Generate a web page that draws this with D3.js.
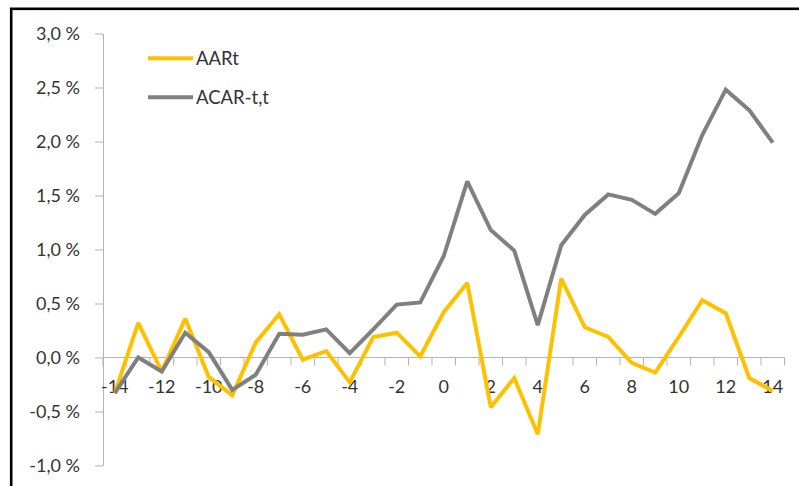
<!DOCTYPE html>
<html>
<head>
<meta charset="utf-8">
<script src="https://cdn.jsdelivr.net/npm/d3@7"></script>
<style>
  html, body { margin: 0; padding: 0; background: #fff; }
  svg { display: block; }
  text { font-family: Lato, "Liberation Sans", sans-serif; fill: #333; }
</style>
</head>
<body>
<svg id="chart" width="799" height="486"></svg>
<script>
// Event days relative to the announcement
const days = d3.range(-14, 15);

// Average abnormal return per day (%)
const aar = [-0.33, 0.32, -0.13, 0.36, -0.18, -0.35, 0.14, 0.40, -0.02, 0.06,
             -0.23, 0.19, 0.23, 0.01, 0.42, 0.69, -0.46, -0.19, -0.71, 0.73,
             0.28, 0.19, -0.05, -0.14, 0.19, 0.53, 0.41, -0.19, -0.31];

// Average cumulative abnormal return from -t to t (%)
const acar = [-0.33, 0.00, -0.13, 0.23, 0.05, -0.30, -0.16, 0.22, 0.21, 0.26,
              0.04, 0.26, 0.49, 0.51, 0.94, 1.63, 1.18, 0.99, 0.30, 1.04,
              1.32, 1.51, 1.46, 1.33, 1.52, 2.06, 2.48, 2.29, 1.99];

const yTicks = [-1.0, -0.5, 0.0, 0.5, 1.0, 1.5, 2.0, 2.5, 3.0];
const xLabelDays = days.filter(d => d % 2 === 0);

const series = [
  { name: "AARt", values: aar, color: "#FFC000" },
  { name: "ACAR-t,t", values: acar, color: "#808080" }
];

const svg = d3.select("#chart");

// Outer chart frame
svg.append("rect")
  .attr("x", 11.2).attr("y", 8.8)
  .attr("width", 820).attr("height", 520)
  .attr("fill", "none")
  .attr("stroke", "#000")
  .attr("stroke-width", 2.6);

const plot = { left: 103, right: 784.5, top: 33.5, bottom: 465.5 };

const x = d3.scaleBand()
  .domain(days)
  .range([plot.left, plot.right])
  .paddingInner(0).paddingOuter(0);

const y = d3.scaleLinear()
  .domain([-1.0, 3.0])
  .range([plot.bottom, plot.top]);

const cx = d => x(d) + x.bandwidth() / 2;
const fmt = v => v.toFixed(1).replace(".", ",") + " %";
const axisColor = "#b3b3b3";

// Vertical value axis
const yAxis = svg.append("g")
  .attr("transform", `translate(${plot.left},0)`)
  .call(d3.axisLeft(y).tickValues(yTicks).tickFormat(fmt)
    .tickSize(8).tickSizeOuter(0).tickPadding(15));
yAxis.select(".domain").attr("stroke", axisColor).attr("stroke-width", 1);
yAxis.selectAll(".tick line").attr("stroke", axisColor);
yAxis.selectAll(".tick text")
  .attr("font-size", 18)
  .attr("fill", "#333")
  .style("font-family", "Lato, 'Liberation Sans', sans-serif");

// Horizontal category axis crossing at 0 %
const y0 = y(0);
const xAxis = svg.append("g").attr("transform", `translate(0,${y0})`);
xAxis.append("line")
  .attr("x1", plot.left).attr("x2", plot.right)
  .attr("stroke", axisColor);

// Tick marks between categories
const boundaries = days.map(d => x(d)).concat([x(days[days.length - 1]) + x.bandwidth()]);
xAxis.selectAll("line.tick")
  .data(boundaries)
  .join("line")
  .attr("class", "tick")
  .attr("x1", d => d).attr("x2", d => d)
  .attr("y1", 0).attr("y2", 8)
  .attr("stroke", axisColor);

xAxis.selectAll("text.lbl")
  .data(xLabelDays)
  .join("text")
  .attr("class", "lbl")
  .attr("x", d => cx(d))
  .attr("y", 35.5)
  .attr("text-anchor", "middle")
  .attr("font-size", 18)
  .text(d => d);

// Series lines
const line = d3.line()
  .x((v, i) => cx(days[i]))
  .y(v => y(v));

svg.selectAll("path.series")
  .data(series)
  .join("path")
  .attr("class", "series")
  .attr("d", s => line(s.values))
  .attr("fill", "none")
  .attr("stroke", s => s.color)
  .attr("stroke-width", 4)
  .attr("stroke-linejoin", "miter")
  .attr("stroke-miterlimit", 2);

// Legend
const legend = svg.append("g").attr("transform", "translate(148,58.3)");
const item = legend.selectAll("g")
  .data(series)
  .join("g")
  .attr("transform", (d, i) => `translate(0,${i * 39})`);
item.append("line")
  .attr("x1", 0).attr("x2", 45)
  .attr("stroke", d => d.color)
  .attr("stroke-width", 4);
item.append("text")
  .attr("x", 48)
  .attr("dy", "0.36em")
  .attr("font-size", 18.5)
  .text(d => d.name);
</script>
</body>
</html>
